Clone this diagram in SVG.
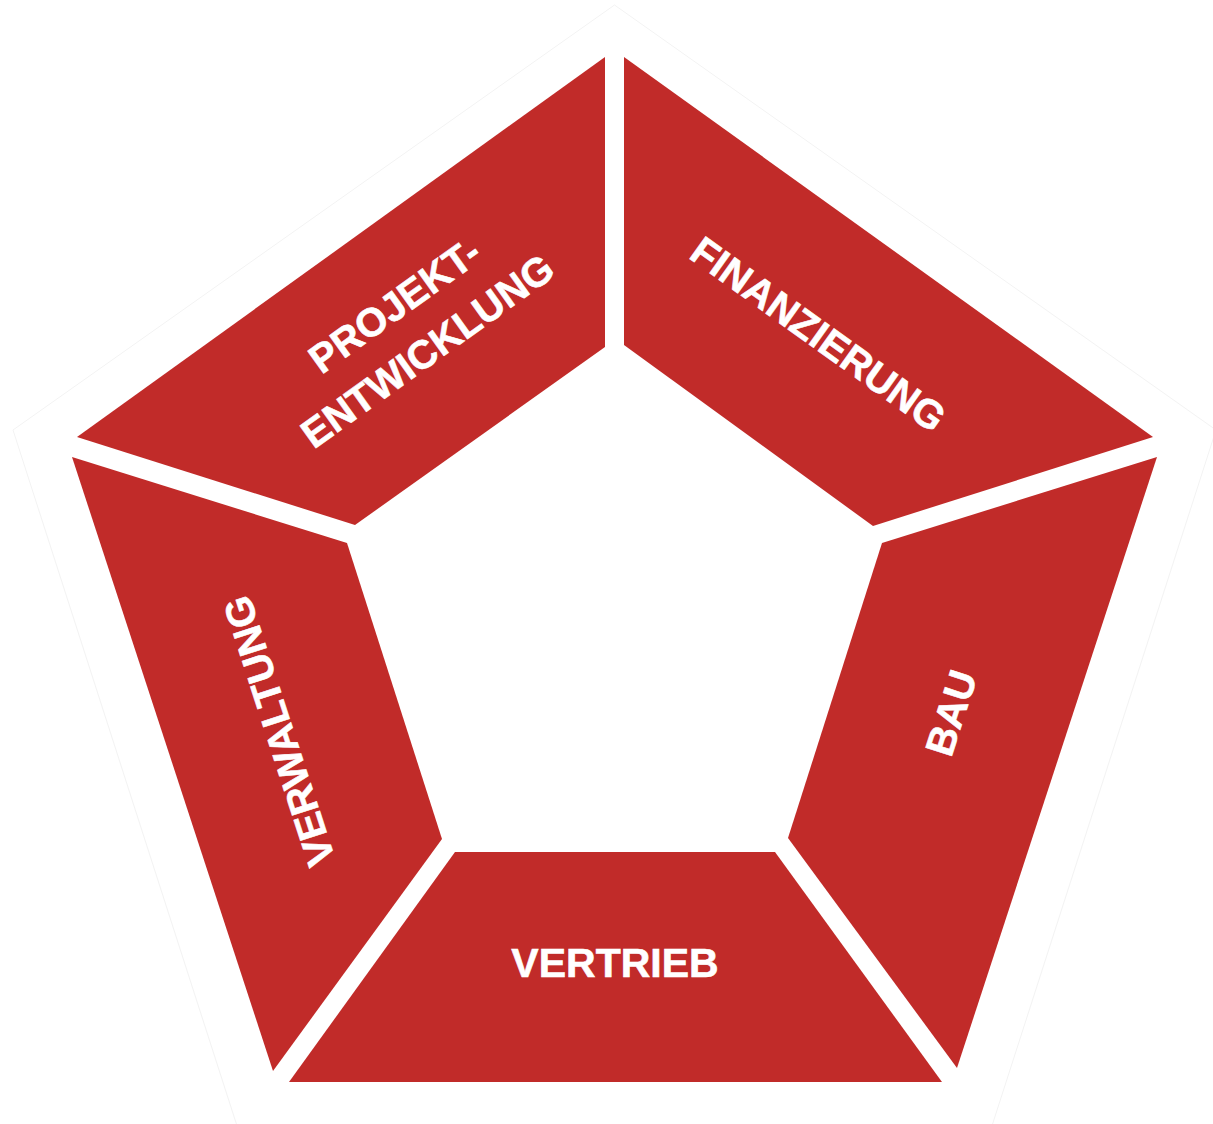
<svg xmlns="http://www.w3.org/2000/svg" width="1213" height="1124" viewBox="0 0 1213 1124">
  <style>
    .seg { fill: #C12B29; }
    .lbl { fill: #FFFFFF; stroke: #FFFFFF; stroke-width: 0.6; font-family: "Liberation Sans", Arial, sans-serif; font-weight: bold; font-size: 40px; text-anchor: middle; }
    .halo { fill: none; stroke: #F3F3F3; stroke-width: 1; }
  </style>
  <rect x="0" y="0" width="1213" height="1124" fill="#FFFFFF"/>
  <polygon class="halo" points="614.5,5 1216,430 990,1132 239,1132 13,430"/>
  <g id="projektentwicklung">
    <polygon class="seg" points="77,437 605,57 605,347 355,525"/>
    <g transform="translate(411,328) rotate(-35.7)">
      <text class="lbl" x="0" y="-14">PROJEKT-</text>
      <text class="lbl" x="0" y="42">ENTWICKLUNG</text>
    </g>
  </g>
  <g id="finanzierung">
    <polygon class="seg" points="624,57 1153,437 873,526 624,345"/>
    <text class="lbl" transform="translate(818.5,334) rotate(35.7)" x="0" y="14">FINANZIERUNG</text>
  </g>
  <g id="bau">
    <polygon class="seg" points="1157,457 957,1068 788,838 882,543"/>
    <text class="lbl" transform="translate(951,713) rotate(-72)" x="0" y="14">BAU</text>
  </g>
  <g id="vertrieb">
    <polygon class="seg" points="289,1082 942,1082 775,852 455,852"/>
    <text class="lbl" x="615" y="977" style="font-size:41px">VERTRIEB</text>
  </g>
  <g id="verwaltung">
    <polygon class="seg" points="72,457 347,543 442,839 273,1071"/>
    <text class="lbl" transform="translate(279,731) rotate(-108)" x="0" y="14">VERWALTUNG</text>
  </g>
  <g id="connectors"></g>
</svg>
